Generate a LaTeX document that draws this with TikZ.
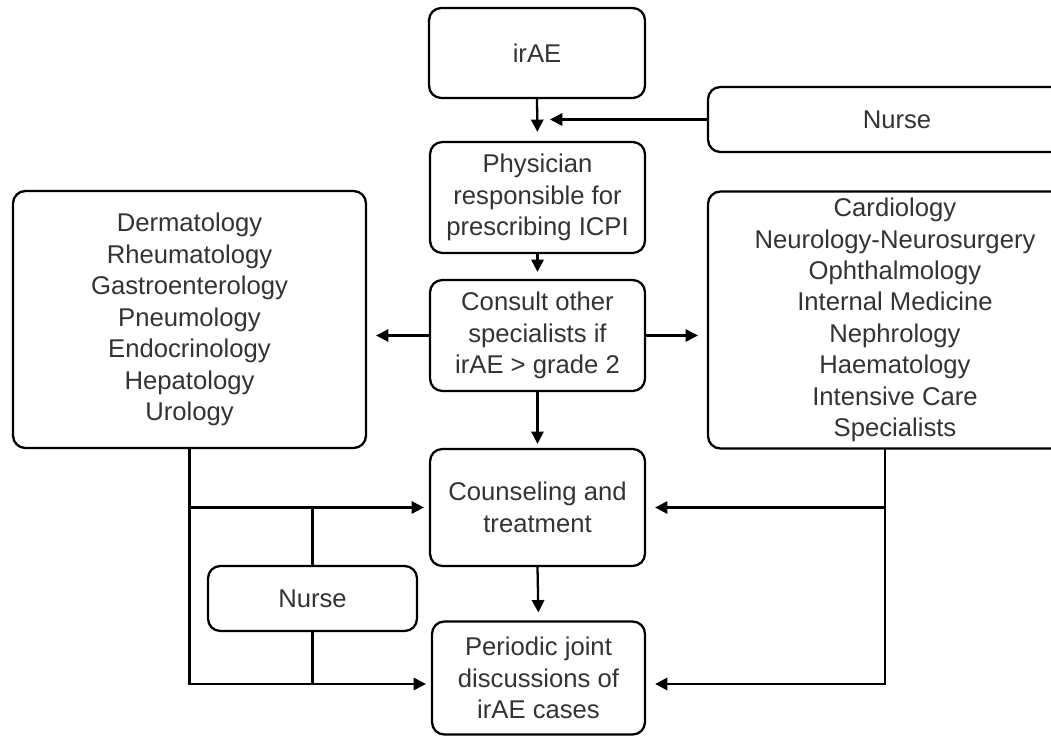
\documentclass[tikz,border=0pt]{standalone}
\usepackage{fontspec}
\setmainfont{Liberation Sans}
\usetikzlibrary{arrows.meta}
\begin{document}
\begin{tikzpicture}[x=0.02cm,y=-0.02cm,
  box/.style={draw, line width=1.3pt, rounded corners=7pt, align=center, inner sep=0pt,
    font=\fontsize{14.6}{17.9}\selectfont, text=black!80},
  arr/.style={line width=1.3pt, -{Triangle[length=7pt,width=7pt]}},
  ln/.style={line width=1.3pt}]
\useasboundingbox (0,0) rectangle (1051,736);
\clip (0,0) rectangle (1051,736);
\fill[white] (0,0) rectangle (1051,736);

\node[box, minimum width=4.32cm, minimum height=1.8cm] (irae) at (537,53) {irAE};
\node[box, minimum width=7.56cm, minimum height=1.3cm] (nurseT) at (897,119.5) {Nurse};
\node[box, minimum width=4.3cm, minimum height=2.22cm] (phys) at (537.5,197.5)
  {Physician\\responsible for\\prescribing ICPI};
\node[box, minimum width=4.3cm, minimum height=2.22cm] (consult) at (537.5,335.5)
  {Consult other\\specialists if\\irAE > grade 2};
\node[box, minimum width=7.06cm, minimum height=5.14cm] (left) at (189.5,319.5)
  {Dermatology\\Rheumatology\\Gastroenterology\\Pneumology\\Endocrinology\\Hepatology\\Urology};
\node[box, minimum width=7.48cm, minimum height=5.14cm] (right) at (895,320)
  {Cardiology\\Neurology-Neurosurgery\\Ophthalmology\\Internal Medicine\\Nephrology\\Haematology\\Intensive Care\\Specialists};
\node[box, minimum width=4.3cm, minimum height=2.34cm] (counsel) at (537.5,507.5)
  {Counseling and\\treatment};
\node[box, minimum width=4.26cm, minimum height=2.26cm] (periodic) at (538.5,678)
  {Periodic joint\\discussions of\\irAE cases};
\node[box, minimum width=4.18cm, minimum height=1.3cm] (nurseB) at (312.5,598.5) {Nurse};

\coordinate (nt) at (550,119.5);
\coordinate (lb) at (189.5,684);
\coordinate (rt) at (885,449);
\coordinate (rb) at (885,684);

\draw[arr, shorten >=0.18cm] (irae.south) -- (phys.north);
\draw[arr] (nurseT.west) -- (nt);
\draw[arr, shorten >=0.14cm] (phys.south) -- (consult.north);
\draw[arr, shorten >=0.18cm] (consult.west) -- (left.east |- consult.west);
\draw[arr, shorten >=0.18cm] (consult.east) -- (right.west |- consult.east);
\draw[arr, shorten >=0.08cm] (consult.south) -- (counsel.north);
\draw[arr, shorten >=0.16cm] (counsel.south) -- (periodic.north);

\draw[arr, shorten >=0.1cm] (left.south) |- (periodic.west |- lb);
\draw[arr, shorten >=0.1cm] (left.south |- counsel.west) -- (counsel.west);
\draw[ln] (nurseB.north |- counsel.west) -- (nurseB.north);
\draw[ln] (nurseB.south) -- (nurseB.south |- lb);

\draw[arr, shorten >=0.18cm] (rt) |- (periodic.east |- rb);
\draw[arr, shorten >=0.18cm] (rt |- counsel.east) -- (counsel.east);
\end{tikzpicture}
\end{document}
